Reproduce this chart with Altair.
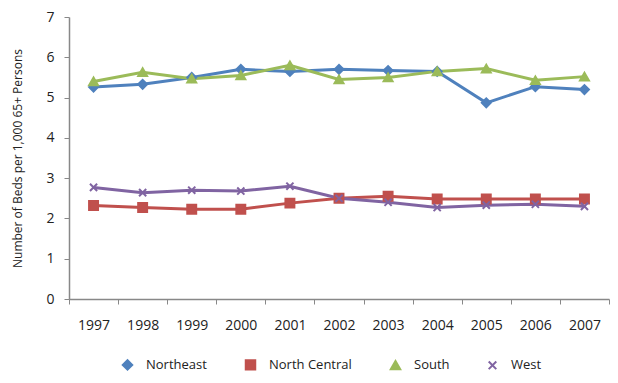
import altair as alt
import pandas as pd

years = ["1997", "1998", "1999", "2000", "2001", "2002", "2003", "2004", "2005", "2006", "2007"]
northeast = [5.26, 5.33, 5.50, 5.70, 5.65, 5.70, 5.67, 5.65, 4.87, 5.27, 5.20]
north_central = [2.32, 2.27, 2.23, 2.23, 2.38, 2.50, 2.55, 2.48, 2.48, 2.48, 2.48]
south = [5.40, 5.63, 5.47, 5.55, 5.80, 5.45, 5.50, 5.65, 5.72, 5.43, 5.52]
west = [2.77, 2.64, 2.70, 2.68, 2.80, 2.50, 2.40, 2.27, 2.33, 2.35, 2.30]

regions = ["Northeast", "North Central", "South", "West"]
colors = ["#4F81BD", "#C0504D", "#9BBB59", "#8064A2"]
shapes = ["diamond", "square", "triangle-up", "M-0.8,-0.8L0.8,0.8M-0.8,0.8L0.8,-0.8"]

rows = []
for name, vals in zip(regions, [northeast, north_central, south, west]):
    for y, v in zip(years, vals):
        rows.append({"year": y, "region": name, "value": v})
df = pd.DataFrame(rows)

FONT = "Open Sans"

x = alt.X("year:N", sort=years, title=None,
          axis=alt.Axis(labelAngle=0, tickBand="extent", labelPadding=14, tickSize=5,
                        domainColor="#888888", tickColor="#888888", labelFontSize=14,
                        labelColor="#222222", labelFont=FONT, domainWidth=1.5))
y = alt.Y("value:Q", scale=alt.Scale(domain=[0, 7]), title="Number of Beds per 1,000 65+ Persons",
          axis=alt.Axis(values=list(range(0, 8)), grid=False, tickSize=5, labelPadding=10,
                        domainColor="#888888", tickColor="#888888", labelFontSize=14,
                        labelColor="#222222", labelFont=FONT, titleFont=FONT, titleFontSize=12,
                        titleFontWeight="normal", titleColor="#222222", titlePadding=21,
                        domainWidth=1.5))

color_scale = alt.Scale(domain=regions, range=colors)

lines = alt.Chart(df).mark_line(strokeWidth=3).encode(
    x=x, y=y,
    color=alt.Color("region:N", scale=color_scale, sort=regions,
                    legend=alt.Legend(title=None, orient="none", direction="horizontal",
                                      legendX=52, legendY=341,
                                      labelFont=FONT, labelFontSize=13, labelColor="#222222",
                                      symbolSize=90, symbolStrokeWidth=2,
                                      columnPadding=34, labelOffset=12)),
)

points = alt.Chart(df).mark_point(filled=True, size=80, strokeWidth=2, opacity=1).encode(
    x=x, y=y,
    fill=alt.Fill("region:N", scale=color_scale, sort=regions, legend=None),
    stroke=alt.Stroke("region:N", scale=color_scale, sort=regions, legend=None),
    shape=alt.Shape("region:N", scale=alt.Scale(domain=regions, range=shapes), sort=regions, legend=None),
)

chart = alt.layer(lines, points).properties(
    width=540, height=282,
    autosize=alt.AutoSizeParams(type="none"),
    padding={"left": 61, "top": 9, "right": 1, "bottom": 76},
).configure_view(stroke=None)

chart.save("out.html", embed_options={"renderer": "svg", "actions": False})
